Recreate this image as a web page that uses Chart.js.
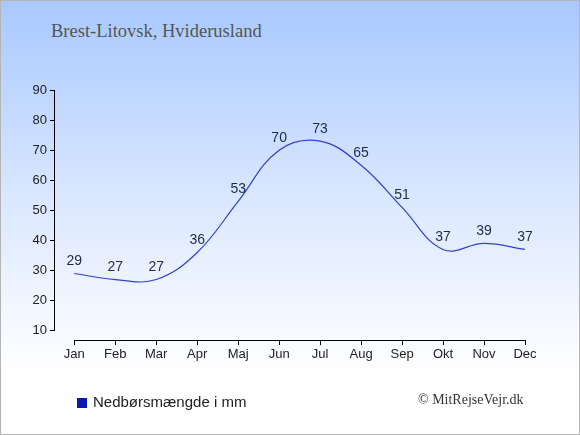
<!DOCTYPE html>
<html lang="da">
  <head>
    <meta charset="utf-8" />
    <script src="https://cdn.jsdelivr.net/npm/chart.js"></script>
    <title>Nedbør Brest-Litovsk</title>
    <style>
      html, body { margin: 0; padding: 0; }
      #wrap {
        position: relative;
        width: 578px;
        height: 433px;
        border: 1px solid #b4b4b4;
        background: linear-gradient(#a8c9ff 0%, #dfeaff 50%, #ffffff 86%);
        overflow: hidden;
      }
      #title {
        position: absolute; left: 50px; top: 20px;
        font: 18.5px "Liberation Serif", serif; color: #555;
      }
      #legend {
        position: absolute; left: 76px; top: 392px;
        font: 15px "Liberation Sans", Arial, sans-serif; color: #222;
      }
      #legend span.box {
        display: inline-block; width: 10px; height: 10px;
        background: #0a1ab0; margin-right: 6px; vertical-align: -1px;
      }
      #copy {
        position: absolute; left: 417px; top: 391px;
        font: 14px "Liberation Serif", serif; color: #333;
      }
      canvas { position: absolute; left: -1px; top: -1px; }
    </style>
  </head>
  <body>
    <div id="wrap">
      <div id="title">Brest-Litovsk, Hviderusland</div>
      <canvas id="rainChart" width="580" height="435"></canvas>
      <div id="legend"><span class="box"></span>Nedbørsmængde i mm</div>
      <div id="copy">© MitRejseVejr.dk</div>
    </div>
    <script>
      const months = ["Jan", "Feb", "Mar", "Apr", "Maj", "Jun", "Jul", "Aug", "Sep", "Okt", "Nov", "Dec"];
      const rain = [29, 27, 27, 36, 53, 70, 73, 65, 51, 37, 39, 37];
      const yTicks = [10, 20, 30, 40, 50, 60, 70, 80, 90];

      // axis lines drawn from the scales, x axis only from Jan to Dec
      const axisLines = {
        id: "axisLines",
        afterDraw(chart) {
          const ctx = chart.ctx;
          const xs = chart.scales.x;
          const ys = chart.scales.y;
          const area = chart.chartArea;
          ctx.save();
          ctx.strokeStyle = "#000";
          ctx.lineWidth = 1;
          ctx.beginPath();
          const lx = Math.round(area.left) - 0.5;
          ctx.moveTo(lx, ys.getPixelForValue(yTicks[yTicks.length - 1]));
          ctx.lineTo(lx, ys.getPixelForValue(yTicks[0]));
          const by = Math.round(area.bottom) + 0.5;
          ctx.moveTo(xs.getPixelForValue(0), by);
          ctx.lineTo(xs.getPixelForValue(months.length - 1), by);
          ctx.stroke();
          ctx.restore();
        },
      };

      const valueLabels = {
        id: "valueLabels",
        afterDatasetsDraw(chart) {
          const ctx = chart.ctx;
          const meta = chart.getDatasetMeta(0);
          ctx.save();
          ctx.font = '14px "Liberation Sans", Arial, sans-serif';
          ctx.fillStyle = "#1e2a4c";
          ctx.textAlign = "center";
          ctx.textBaseline = "middle";
          meta.data.forEach((pt, i) => {
            ctx.fillText(rain[i], pt.x, pt.y - 12);
          });
          ctx.restore();
        },
      };

      new Chart(document.getElementById("rainChart"), {
        type: "line",
        data: {
          datasets: [
            {
              label: "Nedbørsmængde i mm",
              data: rain.map((v, i) => ({ x: i, y: v })),
              borderColor: "#3040c8",
              borderWidth: 1.2,
              pointRadius: 0,
              tension: 0.4,
              fill: false,
            },
          ],
        },
        options: {
          responsive: false,
          animation: false,
          devicePixelRatio: 1,
          layout: { padding: { left: 0, right: 55, top: 90, bottom: 65 } },
          plugins: {
            legend: { display: false },
            title: { display: false },
            tooltip: { enabled: false },
          },
          scales: {
            x: {
              type: "linear",
              min: -0.47,
              max: 11,
              afterBuildTicks: (s) => {
                s.ticks = months.map((m, i) => ({ value: i }));
              },
              afterFit: (s) => { s.height = 30; },
              ticks: {
                callback: (v) => months[v],
                color: "#222",
                padding: 2,
                maxRotation: 0,
                font: { family: '"Liberation Sans", Arial, sans-serif', size: 13 },
              },
              grid: { drawOnChartArea: false, tickLength: 5, color: "#000" },
              border: { display: false },
            },
            y: {
              min: 6.9,
              max: 90,
              afterBuildTicks: (s) => {
                s.ticks = yTicks.map((v) => ({ value: v }));
              },
              afterFit: (s) => { s.width = 55; },
              ticks: {
                color: "#222",
                padding: 3,
                font: { family: '"Liberation Sans", Arial, sans-serif', size: 13 },
              },
              grid: { drawOnChartArea: false, tickLength: 5, color: "#000" },
              border: { display: false },
            },
          },
        },
        plugins: [axisLines, valueLabels],
      });
    </script>
  </body>
</html>
